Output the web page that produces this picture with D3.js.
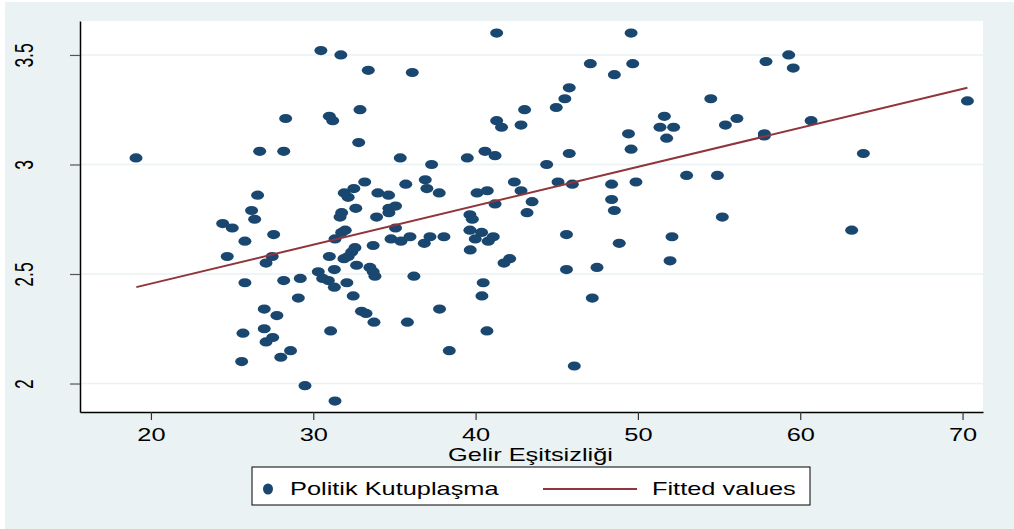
<!DOCTYPE html>
<html>
<head>
<meta charset="utf-8">
<script src="https://cdn.jsdelivr.net/npm/d3@7"></script>
<style>
  html, body { margin: 0; padding: 0; background: #ffffff; }
  svg { display: block; }
  text { font-family: "Liberation Sans", Arial, sans-serif; fill: #000; }
</style>
</head>
<body>
<svg id="chart" width="1014" height="529"></svg>
<script>
// ---- Data ----
const gelirEsitsizligi = [
  19.08, 30.47, 31.7, 28.3, 30.99, 31.2, 26.7, 28.18, 26.57, 26.2,
  41.3, 49.58, 33.39, 36.1, 47.07, 48.55, 49.68, 45.77, 45.5, 44.97,
  43.02, 32.88, 41.3, 41.6, 42.8, 51.63, 51.36, 52.2, 51.77, 49.42,
  49.58, 32.8, 35.36, 37.29, 39.49, 40.58, 41.2, 44.38, 45.77, 33.17,
  31.91, 32.15, 32.5, 33.98, 34.64, 35.7, 36.9, 37.0, 37.76, 40.09,
  40.72, 42.39, 42.8, 45.08, 45.96, 48.38, 49.88, 48.38, 41.2, 43.48,
  57.89, 59.29, 59.57, 54.49, 56.1, 55.39, 60.67, 57.79, 57.79, 70.3,
  63.89, 53.0, 54.9, 55.2, 52.1, 51.98, 63.17, 26.39, 24.42, 25.01,
  25.79, 27.56, 24.7, 27.47, 27.09, 25.79, 28.18, 29.2, 29.08, 26.98,
  27.76, 25.67, 26.98, 27.5, 27.09, 28.6, 28.0, 25.59, 29.49, 31.34,
  30.99, 31.3, 30.31, 30.58, 30.93, 31.3, 31.07, 31.34, 32.62, 31.75,
  31.65, 33.9, 31.97, 31.75, 33.69, 32.57, 32.37, 32.15, 31.89, 32.67,
  33.49, 33.69, 33.8, 32.07, 32.46, 32.97, 33.25, 33.74, 43.17, 34.66,
  35.07, 34.66, 35.07, 39.65, 39.8, 39.65, 40.37, 39.98, 40.78, 41.09,
  39.67, 42.1, 41.75, 34.79, 35.4, 35.96, 36.84, 37.19, 38.05, 36.2,
  40.47, 45.6, 45.6, 48.55, 48.85, 47.48, 35.8, 37.78, 38.38, 40.39,
  40.7, 47.19, 46.08
];
const politikKutuplasma = [
  3.03, 3.52, 3.50, 3.21, 3.22, 3.20, 3.06, 3.06, 2.86, 2.79,
  3.60, 3.60, 3.43, 3.42, 3.46, 3.41, 3.46, 3.35, 3.30, 3.26,
  3.25, 3.25, 3.20, 3.17, 3.18, 3.22, 3.17, 3.17, 3.12, 3.14,
  3.07, 3.10, 3.03, 3.00, 3.03, 3.06, 3.04, 3.00, 3.05, 2.92,
  2.87, 2.85, 2.89, 2.87, 2.86, 2.91, 2.93, 2.89, 2.87, 2.87,
  2.88, 2.92, 2.88, 2.92, 2.91, 2.91, 2.92, 2.84, 2.82, 2.83,
  3.47, 3.50, 3.44, 3.30, 3.21, 3.18, 3.20, 3.14, 3.13, 3.29,
  3.05, 2.95, 2.95, 2.76, 2.67, 2.56, 2.70, 2.75, 2.73, 2.71,
  2.65, 2.68, 2.58, 2.58, 2.55, 2.46, 2.47, 2.48, 2.39, 2.34,
  2.31, 2.23, 2.25, 2.21, 2.19, 2.15, 2.12, 2.10, 1.99, 1.92,
  2.58, 2.52, 2.51, 2.48, 2.47, 2.44, 2.24, 2.66, 2.80, 2.78,
  2.76, 2.76, 2.70, 2.69, 2.63, 2.62, 2.60, 2.58, 2.57, 2.54,
  2.53, 2.51, 2.49, 2.46, 2.40, 2.33, 2.32, 2.28, 2.78, 2.80,
  2.81, 2.78, 2.71, 2.77, 2.75, 2.70, 2.69, 2.66, 2.65, 2.67,
  2.61, 2.57, 2.55, 2.66, 2.65, 2.67, 2.64, 2.67, 2.67, 2.49,
  2.46, 2.68, 2.52, 2.79, 2.64, 2.53, 2.28, 2.34, 2.15, 2.40,
  2.24, 2.39, 2.08
];
// Fitted values line (end points)
const fitX = [19.1, 70.3];
const fitY = [2.44, 3.35];

const xTicks = [20, 30, 40, 50, 60, 70];
const yTicks = [2, 2.5, 3, 3.5];
const xTitle = "Gelir Eşitsizliği";
const legendLabels = ["Politik Kutuplaşma", "Fitted values"];

// ---- Colours / layout ----
const bg = "#eaf2f3";
const navy = "#1a476f";
const maroon = "#90353b";
const SX = 1.45;      // horizontal stretch of the original rendering
const FS = 17.5;

const svg = d3.select("#chart");
const plot = { left: 80, right: 983, top: 21, bottom: 412 };

svg.append("rect").attr("x", 5).attr("y", 2).attr("width", 1009).attr("height", 527).attr("fill", bg);
svg.append("rect").attr("x", plot.left).attr("y", plot.top)
  .attr("width", plot.right - plot.left).attr("height", plot.bottom - plot.top).attr("fill", "#fff");

const x = d3.scaleLinear().domain([15.63, 71.26]).range([plot.left, plot.right]);
const y = d3.scaleLinear().domain([1.870, 3.655]).range([plot.bottom, plot.top]);

// gridlines
svg.append("g").selectAll("line").data(yTicks).join("line")
  .attr("x1", plot.left).attr("x2", plot.right)
  .attr("y1", d => y(d)).attr("y2", d => y(d))
  .attr("stroke", bg).attr("stroke-width", 1.6);

// points
svg.append("g").selectAll("ellipse").data(gelirEsitsizligi.map((v, i) => [v, politikKutuplasma[i]])).join("ellipse")
  .attr("cx", d => x(d[0])).attr("cy", d => y(d[1]))
  .attr("rx", 6.5).attr("ry", 4.6)
  .attr("fill", navy);

// fitted line
svg.append("path")
  .datum(fitX.map((v, i) => [v, fitY[i]]))
  .attr("d", d3.line().x(d => x(d[0])).y(d => y(d[1])))
  .attr("fill", "none").attr("stroke", maroon).attr("stroke-width", 2);

// axes
const xAxis = svg.append("g").attr("transform", `translate(0,${plot.bottom})`)
  .call(d3.axisBottom(x).tickValues(xTicks).tickSizeOuter(0).tickSizeInner(8).tickFormat(d3.format("d")));
xAxis.select(".domain").attr("stroke", "#000").attr("stroke-width", 1.5);
xAxis.selectAll(".tick line").attr("stroke", "#333").attr("stroke-width", 1.2);
xAxis.selectAll(".tick text")
  .attr("x", null).attr("y", null).attr("dy", null)
  .attr("transform", `translate(0,29) scale(${SX},1)`)
  .attr("text-anchor", "middle")
  .style("font-size", FS + "px").style("font-family", '"Liberation Sans", Arial, sans-serif').attr("fill", "#000");

const yAxis = svg.append("g").attr("transform", `translate(${plot.left},0)`)
  .call(d3.axisLeft(y).tickValues(yTicks).tickSizeOuter(0).tickSizeInner(10).tickFormat(d => String(d)));
yAxis.select(".domain").attr("stroke", "#000").attr("stroke-width", 1.5);
yAxis.selectAll(".tick line").attr("stroke", "#555").attr("stroke-width", 1.2);
yAxis.selectAll(".tick text")
  .attr("x", null).attr("y", null).attr("dy", null)
  .attr("transform", `translate(-47,0) scale(${SX},1) rotate(-90)`)
  .attr("text-anchor", "middle")
  .style("font-size", FS + "px").style("font-family", '"Liberation Sans", Arial, sans-serif').attr("fill", "#000");

// axis title
svg.append("text")
  .attr("transform", `translate(${(plot.left + plot.right) / 2 - 1},461) scale(${SX},1)`)
  .attr("text-anchor", "middle").style("font-size", FS + "px")
  .text(xTitle);

// legend
const lg = svg.append("g");
lg.append("rect").attr("x", 252).attr("y", 467).attr("width", 558).attr("height", 38)
  .attr("fill", "#fff").attr("stroke", "#000").attr("stroke-width", 1);
lg.append("ellipse").attr("cx", 268).attr("cy", 489).attr("rx", 5).attr("ry", 5.5).attr("fill", navy);
lg.append("text").attr("transform", `translate(290,495) scale(${SX},1)`).style("font-size", FS + "px").text(legendLabels[0]);
lg.append("line").attr("x1", 543).attr("x2", 637).attr("y1", 489).attr("y2", 489)
  .attr("stroke", maroon).attr("stroke-width", 2);
lg.append("text").attr("transform", `translate(652,495) scale(${SX},1)`).style("font-size", FS + "px").text(legendLabels[1]);
</script>
</body>
</html>
